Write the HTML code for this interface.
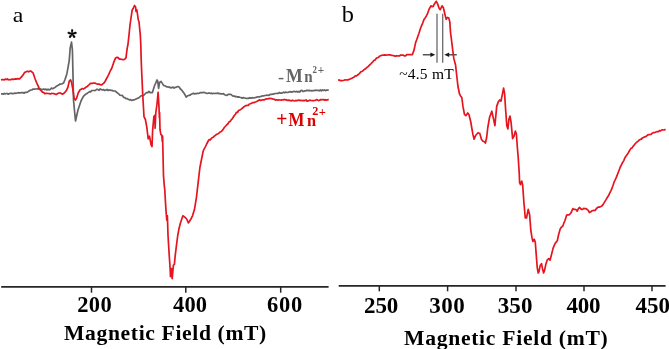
<!DOCTYPE html>
<html><head><meta charset="utf-8"><style>
html,body{margin:0;padding:0;background:#fff;}
body{width:669px;height:349px;overflow:hidden;}
svg{display:block;}
text{font-family:"Liberation Serif","Times New Roman",serif;}
</style></head><body>
<svg width="669" height="349" viewBox="0 0 669 349">
<rect width="669" height="349" fill="#fff"/>
<!-- panel a axis -->
<g stroke="#262626" stroke-width="1.7" fill="none">
<line x1="1.2" y1="286.9" x2="328.6" y2="286.9"/>
<line x1="91.5" y1="286.9" x2="91.5" y2="292.7" stroke-width="1.5"/>
<line x1="185.8" y1="286.9" x2="185.8" y2="292.7" stroke-width="1.5"/>
<line x1="280.7" y1="286.9" x2="280.7" y2="292.7" stroke-width="1.5"/>
<line x1="338.7" y1="285.9" x2="665.6" y2="285.9"/>
<line x1="379.3" y1="285.9" x2="379.3" y2="291.3" stroke-width="1.5"/>
<line x1="447.6" y1="285.9" x2="447.6" y2="291.3" stroke-width="1.5"/>
<line x1="516" y1="285.9" x2="516" y2="291.3" stroke-width="1.5"/>
<line x1="584" y1="285.9" x2="584" y2="291.3" stroke-width="1.5"/>
<line x1="652" y1="285.9" x2="652" y2="291.3" stroke-width="1.5"/>
</g>
<text x="77.16" y="311.72" font-size="22.50" font-weight="bold" fill="#000" textLength="34.65" lengthAdjust="spacing">200</text>
<text x="173.12" y="311.72" font-size="22.50" font-weight="bold" fill="#000" textLength="33.91" lengthAdjust="spacing">400</text>
<text x="266.96" y="311.72" font-size="22.50" font-weight="bold" fill="#000" textLength="35.35" lengthAdjust="spacing">600</text>
<text x="364.11" y="313.00" font-size="23.00" font-weight="bold" fill="#000" textLength="34.18" lengthAdjust="spacing">250</text>
<text x="429.30" y="313.00" font-size="23.00" font-weight="bold" fill="#000" textLength="35.42" lengthAdjust="spacing">300</text>
<text x="497.79" y="313.00" font-size="23.00" font-weight="bold" fill="#000" textLength="34.64" lengthAdjust="spacing">350</text>
<text x="566.54" y="313.00" font-size="23.00" font-weight="bold" fill="#000" textLength="33.97" lengthAdjust="spacing">400</text>
<text x="635.42" y="313.00" font-size="23.00" font-weight="bold" fill="#000" textLength="34.50" lengthAdjust="spacing">450</text>
<text x="64.04" y="340.00" font-size="21.60" font-weight="bold" fill="#000" textLength="202.26" lengthAdjust="spacing">Magnetic Field (mT)</text>
<text x="404.05" y="345.00" font-size="21.60" font-weight="bold" fill="#000" textLength="203.66" lengthAdjust="spacing">Magnetic Field (mT)</text>
<text x="12.65" y="21.58" font-size="22.00" font-weight="normal" fill="#000" textLength="10.55" lengthAdjust="spacingAndGlyphs">a</text>
<text x="341.66" y="21.58" font-size="24.00" font-weight="normal" fill="#000" textLength="12.17" lengthAdjust="spacingAndGlyphs">b</text>
<text x="399.19" y="78.68" font-size="15.50" font-weight="normal" fill="#000" textLength="54.46" lengthAdjust="spacing">~4.5 mT</text>
<text x="277.98" y="83.10" font-size="17.00" font-weight="bold" fill="#646464" textLength="6.13" lengthAdjust="spacingAndGlyphs">-</text>
<text x="286.04" y="82.00" font-size="18.00" font-weight="bold" fill="#646464" textLength="16.74" lengthAdjust="spacingAndGlyphs">M</text>
<text x="304.20" y="82.00" font-size="17.50" font-weight="bold" fill="#646464" textLength="8.38" lengthAdjust="spacingAndGlyphs">n</text>
<text x="312.51" y="73.41" font-size="11.20" font-weight="bold" fill="#646464" textLength="4.44" lengthAdjust="spacingAndGlyphs">2</text>
<text x="317.77" y="74.45" font-size="11.50" font-weight="bold" fill="#646464" textLength="6.44" lengthAdjust="spacingAndGlyphs">+</text>
<text x="276.36" y="125.60" font-size="21.00" font-weight="bold" fill="#dd0000" textLength="11.13" lengthAdjust="spacingAndGlyphs">+</text>
<text x="288.48" y="125.78" font-size="18.50" font-weight="bold" fill="#dd0000" textLength="15.93" lengthAdjust="spacingAndGlyphs">M</text>
<text x="307.04" y="125.78" font-size="17.50" font-weight="bold" fill="#dd0000" textLength="9.09" lengthAdjust="spacingAndGlyphs">n</text>
<text x="312.38" y="115.35" font-size="11.50" font-weight="bold" fill="#dd0000" textLength="6.11" lengthAdjust="spacingAndGlyphs">2</text>
<text x="318.85" y="116.43" font-size="12.00" font-weight="bold" fill="#dd0000" textLength="7.10" lengthAdjust="spacingAndGlyphs">+</text>
<text x="67.4" y="45.1" font-size="19" font-weight="bold" fill="#000" stroke="#000" stroke-width="0.5" style="font-family:'Noto Serif CJK SC',serif">*</text>
<!-- annotation -->
<g stroke="#6a6a6a" stroke-width="1.3">
<line x1="437" y1="13.8" x2="437" y2="62.7"/>
<line x1="442.7" y1="13.8" x2="442.7" y2="62.7"/>
</g>
<g stroke="#2a2a2a" stroke-width="1.2">
<line x1="422.8" y1="54.8" x2="431.5" y2="54.8"/>
<line x1="448" y1="54.8" x2="456.8" y2="54.8"/>
</g>
<g fill="#1a1a1a">
<polygon points="435.3,54.8 430.4,52.6 430.4,57"/>
<polygon points="444.3,54.8 449.2,52.6 449.2,57"/>
</g>
<!-- traces -->
<g fill="none" stroke-linejoin="round" stroke-linecap="butt">
<polyline stroke="#646464" stroke-width="1.7" points="1.0,93.8 2.0,93.8 3.1,94.2 4.2,93.4 5.2,94.0 6.2,93.5 7.3,93.5 8.3,94.2 9.4,93.5 10.5,93.4 11.5,93.4 12.6,93.6 13.8,93.6 14.9,93.1 16.1,93.3 17.2,93.0 18.3,92.7 19.5,92.9 20.6,92.9 21.7,92.7 22.9,92.6 24.0,93.2 25.2,92.3 26.3,92.4 27.5,92.1 28.6,91.3 29.8,90.6 30.9,90.0 32.1,89.8 33.2,89.0 34.4,89.2 35.5,89.0 36.7,88.9 37.8,88.6 38.9,89.1 40.1,88.8 41.2,89.2 42.4,89.6 43.5,89.0 44.7,89.6 45.9,89.1 47.0,90.0 48.1,89.2 49.3,89.9 50.4,89.2 51.5,88.1 52.7,88.7 53.8,88.1 55.0,87.4 56.1,86.5 57.3,85.8 58.6,85.1 60.0,84.0 60.2,84.3 61.4,84.0 62.5,83.6 63.7,82.7 65.0,79.5 66.9,73.7 69.2,60.8 70.2,47.9 71.5,42.2 72.4,50.0 73.0,75.0 73.5,100.0 75.5,121.0 78.0,110.0 81.0,101.0 82.2,98.6 83.4,96.3 84.4,95.3 85.4,94.5 86.5,93.6 87.5,93.2 88.5,92.4 89.5,91.7 90.6,92.0 91.6,90.6 92.7,90.5 93.7,90.5 95.0,90.6 96.0,89.9 97.0,89.2 98.0,89.6 99.1,90.3 100.2,88.9 101.4,89.7 102.5,89.9 103.7,89.7 104.8,90.5 106.0,90.0 107.0,89.4 108.0,90.5 109.0,89.9 110.0,90.2 111.1,90.3 112.2,90.4 113.3,91.0 114.4,91.0 115.4,91.2 116.4,92.2 117.4,92.8 118.7,93.8 119.9,95.2 121.2,95.5 122.4,95.4 123.7,97.5 124.9,97.7 126.0,98.6 127.2,98.6 128.3,99.4 129.4,99.8 130.5,99.7 131.7,100.4 132.8,99.9 133.9,99.9 135.0,99.4 136.1,98.9 137.2,98.5 138.3,98.1 139.6,97.2 140.8,96.1 142.1,95.5 143.6,95.5 145.0,94.0 146.4,92.6 147.9,92.6 149.0,91.3 150.2,92.6 151.3,92.5 152.4,92.6 154.6,85.5 155.8,82.9 157.0,80.0 157.7,81.2 158.6,88.3 159.6,82.5 161.0,81.4 162.3,83.4 163.7,85.5 164.8,85.8 165.8,86.3 166.9,86.9 167.9,86.8 169.0,87.3 170.0,87.2 171.0,88.0 172.0,87.5 173.0,87.0 174.0,88.1 175.0,87.3 176.1,87.3 177.2,86.6 178.3,86.6 179.3,87.3 180.4,89.0 181.4,89.7 182.4,91.1 183.7,92.7 184.9,94.6 186.2,97.1 187.3,96.1 188.5,95.5 189.9,95.2 191.4,94.1 192.4,93.8 193.4,93.3 194.4,93.9 195.4,93.6 196.4,93.7 197.4,93.3 198.5,93.5 199.7,92.9 200.8,92.7 201.9,92.6 202.9,92.7 204.0,92.3 205.0,92.8 206.1,93.1 207.1,93.5 208.2,93.2 209.3,93.2 210.4,93.3 211.4,93.2 212.5,93.6 213.6,93.3 214.6,93.5 215.7,93.3 216.8,93.4 217.9,93.0 218.9,93.7 220.0,93.6 221.2,93.9 222.4,93.8 223.5,93.7 224.7,94.8 225.9,95.1 227.0,95.3 228.2,94.4 229.3,94.3 230.4,94.3 231.4,94.7 232.4,95.8 233.4,96.2 234.4,96.0 235.5,96.8 236.5,96.5 237.6,97.1 238.6,96.9 239.9,97.3 241.1,97.6 242.4,98.1 243.4,97.6 244.4,98.0 245.4,98.2 246.4,98.5 247.4,98.4 248.4,98.4 249.6,97.9 250.9,98.1 252.1,97.7 253.6,98.0 255.0,97.7 256.0,97.4 257.0,97.1 258.1,96.8 259.1,97.0 260.1,96.5 261.2,96.5 262.4,95.8 263.5,96.0 264.7,95.5 265.8,95.5 267.0,95.0 268.1,95.5 269.3,95.1 270.4,94.3 271.6,94.3 272.7,94.1 273.9,94.1 275.0,93.5 276.2,93.5 277.3,93.3 278.3,93.4 279.4,92.5 280.4,93.1 281.5,93.1 282.5,92.9 283.5,92.2 284.6,92.7 285.6,92.1 286.7,92.5 287.7,92.4 288.7,92.2 289.8,91.8 290.8,91.7 291.9,92.1 292.9,91.7 293.9,91.3 294.9,91.8 295.9,91.7 296.9,91.4 297.9,92.2 298.9,91.4 299.9,92.0 300.9,90.5 301.9,90.4 302.9,91.4 303.9,91.3 304.9,90.9 305.9,90.9 306.9,90.2 307.9,90.6 308.9,90.4 309.9,90.6 310.9,90.6 312.0,90.9 313.0,90.5 314.1,90.6 315.1,90.2 316.2,90.3 317.2,90.4 318.3,90.3 319.3,90.8 320.4,90.0 321.4,90.9 322.5,89.9 323.5,90.5 324.6,89.9 325.6,90.7 326.7,90.1 327.7,90.2 328.8,90.0"/>
<polyline stroke="#e6141e" stroke-width="1.7" points="1.0,80.0 2.0,79.6 3.1,79.5 4.2,80.0 5.2,79.0 6.2,79.6 7.3,78.9 8.3,79.8 9.4,79.5 10.5,79.8 11.5,79.3 12.5,79.1 13.5,79.3 14.5,79.1 15.5,78.9 16.5,79.1 17.5,78.6 18.5,78.8 19.5,78.9 21.2,77.2 22.3,75.9 23.5,74.2 24.6,72.6 26.1,71.8 27.5,71.2 28.6,71.8 29.8,71.2 30.9,71.1 32.0,72.0 33.2,73.2 34.9,78.3 36.0,81.2 37.2,84.0 38.4,86.4 39.5,89.2 41.0,90.5 42.4,92.1 43.5,92.4 44.7,93.6 45.8,93.4 46.9,93.4 48.1,93.5 49.2,93.6 50.4,94.0 51.5,93.4 52.7,93.5 53.8,93.6 55.0,94.0 56.1,94.6 57.3,93.8 58.9,93.0 60.2,92.9 61.4,93.6 62.7,94.1 64.0,93.2 65.3,91.8 66.6,90.2 67.9,87.2 69.4,80.8 70.5,79.9 71.5,82.1 72.8,89.2 74.1,98.2 75.4,100.1 76.6,98.2 78.2,93.0 80.1,89.8 81.2,89.2 82.3,88.5 83.4,88.9 84.7,88.3 85.9,87.2 87.2,86.6 88.3,85.4 89.3,84.6 90.4,83.4 91.6,83.4 92.7,83.3 93.8,83.0 95.0,83.1 96.3,83.8 97.6,84.2 98.9,84.1 100.2,84.6 101.5,85.0 102.8,83.9 104.0,83.0 105.3,81.0 106.6,78.5 107.9,76.1 109.2,73.4 110.5,70.5 111.8,68.2 113.7,62.4 115.6,57.9 116.9,57.3 118.2,57.6 119.5,59.2 120.8,59.2 122.1,59.5 123.4,59.7 124.7,59.2 126.0,57.9 126.6,52.7 127.3,47.6 127.9,45.0 129.0,35.0 130.0,25.0 131.0,18.0 132.2,10.0 133.2,8.5 134.5,5.5 135.6,7.0 136.0,11.5 136.9,10.0 137.6,15.0 138.3,20.0 139.0,21.5 139.6,28.0 140.3,35.0 140.8,45.0 141.2,60.0 141.6,70.0 142.7,94.3 144.0,116.7 145.4,119.5 146.9,127.8 148.2,139.0 149.5,136.2 151.0,144.6 152.0,146.5 152.6,130.7 153.9,116.6 154.9,115.3 155.1,128.2 155.8,112.7 156.9,105.0 158.1,92.3 158.9,105.0 159.4,117.9 159.6,112.5 160.0,129.5 160.9,134.6 161.8,135.2 162.3,141.5 162.6,136.0 162.9,150.0 163.5,175.8 164.2,184.8 164.8,190.0 165.5,202.9 166.1,211.9 166.8,220.3 167.4,215.8 168.0,235.0 168.6,245.0 169.3,256.5 170.1,268.0 170.5,276.6 171.5,268.7 172.2,278.7 173.4,265.1 174.4,264.4 175.1,256.5 176.5,245.0 177.8,235.0 179.0,228.7 180.3,223.5 181.6,219.6 182.9,215.8 184.8,217.1 186.7,219.0 188.4,222.9 189.5,221.2 190.6,219.6 192.5,215.8 194.5,209.3 196.4,197.7 199.9,167.5 203.2,151.0 204.2,148.9 205.2,147.1 206.2,145.0 207.2,143.0 208.2,141.0 209.2,139.6 210.2,139.9 211.3,138.6 212.3,137.5 213.3,137.2 214.3,136.2 215.4,135.3 216.4,134.5 217.5,134.0 218.6,133.5 219.7,132.2 220.8,131.7 221.9,131.1 223.0,129.6 224.3,127.5 225.7,126.0 226.8,124.7 227.8,124.0 228.9,122.1 230.0,121.5 231.1,119.9 232.2,118.9 233.2,117.3 234.3,115.5 235.4,114.4 236.4,112.4 237.5,112.5 238.6,110.5 239.7,110.0 240.8,109.4 241.8,108.6 242.9,107.8 244.0,106.7 245.1,106.1 246.1,105.6 247.2,105.3 248.3,105.4 249.3,104.0 250.4,103.7 251.5,103.2 252.6,102.7 253.8,102.6 254.9,102.2 256.1,101.8 257.2,101.3 258.4,100.6 259.5,99.8 260.7,100.4 261.8,100.2 263.0,99.8 264.1,99.9 265.3,99.3 266.4,98.9 267.6,99.0 268.7,98.6 269.8,98.3 271.0,98.6 272.1,98.7 273.3,99.2 274.4,99.3 275.5,100.1 276.6,99.8 277.8,100.1 278.9,99.9 280.0,100.0 281.1,100.1 282.1,99.9 283.2,100.0 284.2,99.4 285.3,99.8 286.4,99.8 287.4,100.4 288.5,100.2 289.5,100.4 290.6,100.6 291.6,100.8 292.6,100.2 293.7,100.7 294.7,101.0 295.7,100.4 296.7,100.8 297.8,100.4 298.8,100.0 299.8,100.6 300.9,100.3 301.9,100.6 302.9,100.6 304.0,100.4 305.0,100.6 306.1,99.9 307.1,101.1 308.1,100.9 309.2,100.4 310.2,100.2 311.2,100.5 312.3,100.6 313.3,100.6 314.4,100.5 315.4,100.4 316.4,99.7 317.5,99.9 318.5,100.6 319.5,100.2 320.6,99.6 321.6,99.8 322.6,99.5 323.6,99.6 324.7,100.2 325.7,99.7 326.7,100.1 327.8,99.7 328.8,99.6"/>
<polyline stroke="#e6141e" stroke-width="1.7" points="338.1,79.9 339.4,80.1 340.6,80.6 341.9,80.7 342.9,80.5 343.9,80.3 345.0,79.9 346.0,80.0 347.0,79.9 348.0,79.9 349.1,79.3 350.1,79.1 351.2,78.5 352.2,78.1 353.2,77.6 354.2,77.0 355.3,75.9 356.3,76.0 357.3,75.2 358.3,74.6 359.4,73.7 360.4,72.3 361.5,71.5 362.5,71.2 363.5,70.1 364.6,69.3 365.6,68.7 366.7,67.7 367.7,66.9 368.8,66.0 369.9,64.6 370.9,63.8 372.0,62.6 373.1,61.6 374.1,60.3 375.2,59.9 376.3,58.3 377.4,57.8 378.5,57.4 379.5,56.2 380.6,55.7 381.7,55.3 382.8,55.2 383.8,55.1 384.9,54.9 386.0,55.1 387.2,55.0 388.3,54.9 389.4,54.9 390.6,54.9 391.7,55.4 393.0,55.5 394.3,55.9 395.4,56.3 396.5,55.7 397.5,56.0 398.6,55.9 399.7,55.8 400.8,55.0 401.8,55.2 402.9,55.0 404.2,55.8 405.5,55.9 406.8,54.7 408.1,54.7 409.2,54.6 410.2,54.7 411.2,54.5 412.3,54.7 414.1,49.9 415.6,42.6 416.7,39.7 417.8,36.5 418.9,33.5 420.2,29.2 421.5,25.8 422.8,22.8 424.0,19.4 425.1,17.9 426.2,16.2 427.3,14.2 429.2,9.0 431.1,5.8 432.1,6.6 433.1,6.5 434.4,3.9 436.3,1.3 437.6,3.9 438.9,7.7 440.2,9.7 442.1,5.8 443.4,7.7 444.9,14.2 446.2,19.4 447.5,17.4 448.8,18.1 449.8,21.9 450.5,32.3 451.5,40.0 452.6,49.2 453.8,58.4 455.6,65.3 456.6,74.5 457.9,86.0 459.5,94.0 460.6,95.9 461.8,97.5 463.0,106.7 464.5,114.5 465.8,115.7 467.7,112.9 469.0,114.8 470.8,122.0 471.7,127.5 472.9,134.4 474.1,139.2 475.8,135.2 476.9,134.0 478.0,132.7 479.8,133.5 481.5,139.5 483.2,141.3 484.3,141.8 485.4,143.0 486.6,137.8 487.8,127.5 489.6,117.2 490.7,114.4 491.8,111.2 493.5,118.9 494.9,125.7 496.7,106.4 498.2,102.1 499.7,100.0 501.0,101.1 502.5,93.6 503.6,88.2 504.6,93.6 505.7,110.7 506.8,125.7 507.9,128.9 508.9,119.3 510.0,116.1 511.1,122.5 512.6,138.6 513.9,136.4 515.4,131.1 516.4,134.3 517.5,149.3 518.2,157.2 519.3,174.4 519.6,182.7 520.5,184.5 521.7,181.0 522.7,185.3 523.9,202.5 525.3,218.0 526.5,218.0 528.2,209.4 529.6,214.5 530.8,230.0 531.9,237.2 532.9,241.5 534.3,239.3 535.3,242.2 536.2,254.4 537.2,267.3 538.2,273.0 539.0,271.6 540.1,265.8 541.5,263.7 542.5,268.7 543.6,273.0 544.6,270.1 545.8,264.4 547.2,260.1 548.7,258.7 550.1,260.1 551.2,255.8 553.0,248.6 554.0,245.9 555.1,243.6 556.2,242.1 557.3,240.8 558.5,235.0 560.2,229.0 561.5,227.1 562.8,226.0 563.8,223.2 564.8,221.0 566.7,215.1 568.0,214.8 569.3,214.8 571.0,212.9 572.9,208.6 574.0,209.4 575.1,209.4 576.2,209.7 577.2,211.2 578.3,208.9 579.4,207.5 580.5,208.5 581.5,209.4 582.6,209.3 583.7,208.4 584.8,208.7 585.8,208.6 587.0,209.3 588.2,210.4 589.4,212.5 590.8,211.8 592.2,210.8 593.7,210.4 595.1,210.5 596.5,208.5 598.0,207.2 599.4,207.1 600.8,206.5 601.9,205.9 603.0,204.6 604.1,202.9 605.1,201.1 606.2,199.4 607.3,197.5 608.6,195.6 609.8,192.9 611.1,190.3 612.1,187.9 613.1,185.3 614.1,182.1 615.1,180.0 616.1,177.9 617.1,175.4 618.1,172.8 619.1,170.2 620.3,167.0 621.4,164.9 622.6,162.5 623.8,160.6 624.9,157.7 626.1,156.1 627.3,154.2 628.4,152.7 629.6,150.5 630.8,148.6 632.0,148.0 633.2,146.1 634.2,145.1 635.2,143.8 636.2,142.7 637.2,141.9 638.2,141.1 639.2,140.0 640.3,139.4 641.4,139.1 642.4,137.9 643.5,137.5 644.6,136.8 645.7,136.7 646.7,135.8 647.8,134.9 648.9,134.6 650.0,134.5 651.0,134.3 652.1,133.3 653.2,132.6 654.3,132.6 655.4,132.2 656.4,131.8 657.5,131.5 658.5,131.6 659.5,130.6 660.5,131.0 661.5,130.0 662.6,129.8 663.6,130.0 664.6,129.8 665.6,129.2"/>
</g>
</svg>
</body></html>
